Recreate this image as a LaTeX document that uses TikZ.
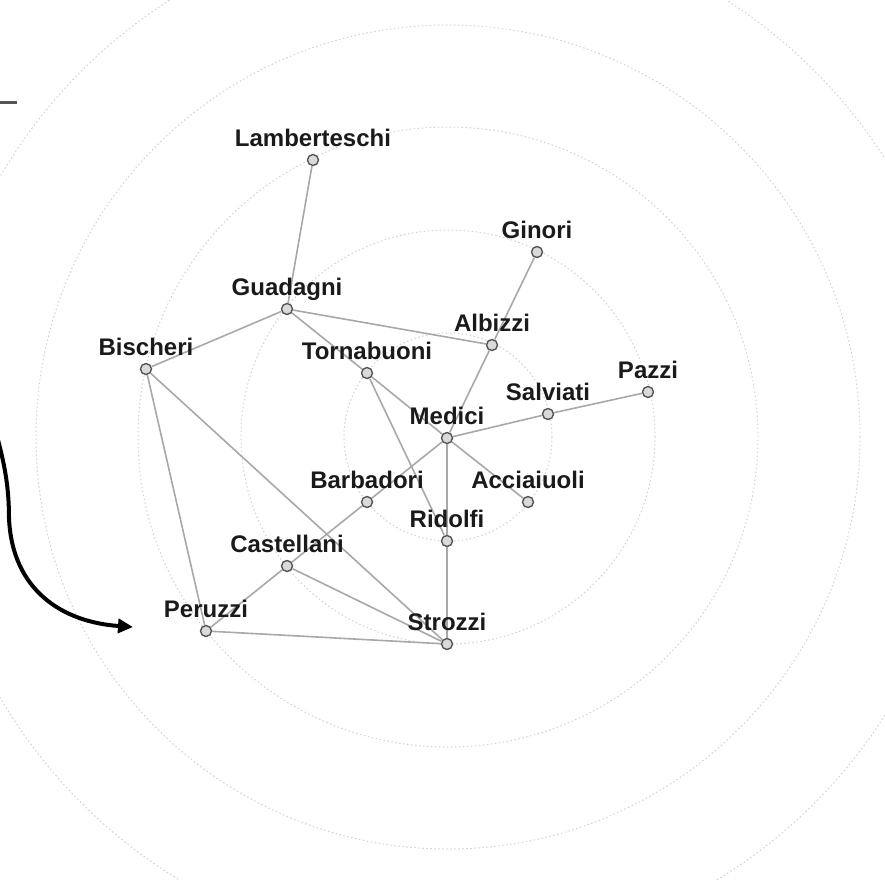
\documentclass[tikz,border=0pt]{standalone}
\usepackage{fontspec}
\setmainfont{Liberation Sans}
\usetikzlibrary{arrows.meta}
\definecolor{ringc}{HTML}{D2D2D2}
\definecolor{edgec}{HTML}{A8A8A8}
\definecolor{nodeline}{HTML}{555555}
\definecolor{nodefill}{HTML}{DADADA}
\definecolor{textc}{HTML}{1A1A1A}
\definecolor{tickc}{HTML}{555555}
\begin{document}
\begin{tikzpicture}[x=1pt,y=-1pt,
  fam/.style={circle,draw=nodeline,fill=nodefill,line width=1.4pt,minimum size=11pt,inner sep=0pt},
  lab/.style={anchor=base,font=\bfseries\fontsize{24}{24}\selectfont,text=textc,inner sep=0pt},
  edge/.style={draw=edgec,line width=1.6pt},
  ring/.style={draw=ringc,line width=1pt,dash pattern=on 1.5pt off 2.5pt},
  bigarrow/.style={draw=black,line width=4pt,-{Triangle[length=15pt,width=14pt]}}]
\useasboundingbox (0,0) rectangle (885,879);
% concentric rings
\coordinate (ctr) at (448,437);
\foreach \r in {104,207,310,412,518}
  \draw[ring] (ctr) circle[radius=\r pt];
% nodes
\node[fam] (lam) at (313,160) {};
\node[fam] (gin) at (537,252) {};
\node[fam] (gua) at (287,309) {};
\node[fam] (alb) at (492,345) {};
\node[fam] (bis) at (146,369) {};
\node[fam] (tor) at (367,373) {};
\node[fam] (paz) at (648,392) {};
\node[fam] (sal) at (548,414) {};
\node[fam] (med) at (447,438) {};
\node[fam] (bar) at (367,502) {};
\node[fam] (acc) at (528,502) {};
\node[fam] (rid) at (447,541) {};
\node[fam] (cas) at (287,566) {};
\node[fam] (per) at (206,631) {};
\node[fam] (str) at (447,644) {};
% edges
\begin{scope}[on background layer/.style={}]
\foreach \a/\b in {lam/gua,gin/alb,gua/alb,gua/bis,gua/tor,alb/med,tor/med,tor/rid,
  med/sal,sal/paz,med/bar,med/acc,med/rid,bar/cas,bis/per,bis/str,cas/per,cas/str,per/str,rid/str}
  \draw[edge] (\a) -- (\b);
\end{scope}
% labels
\foreach \n/\t in {lam/Lamberteschi,gin/Ginori,gua/Guadagni,alb/Albizzi,bis/Bischeri,
  tor/Tornabuoni,paz/Pazzi,sal/Salviati,med/Medici,bar/Barbadori,acc/Acciaiuoli,
  rid/Ridolfi,cas/Castellani,per/Peruzzi,str/Strozzi}
  \path (\n) ++(0,-14) node[lab] (\n-l) {\t};
% top-left tick
\coordinate (t1) at (-2,102.5);
\coordinate (t2) at (17,102.5);
\draw[draw=tickc,line width=3pt] (t1) -- (t2);
% curved arrow
\coordinate (astart) at (-2,440);
\coordinate (aend) at (133,627);
\draw[bigarrow] (astart) .. controls (6,470) and (9,492) .. (9,518)
  .. controls (12,590) and (62,622) .. (aend);
\end{tikzpicture}
\end{document}
